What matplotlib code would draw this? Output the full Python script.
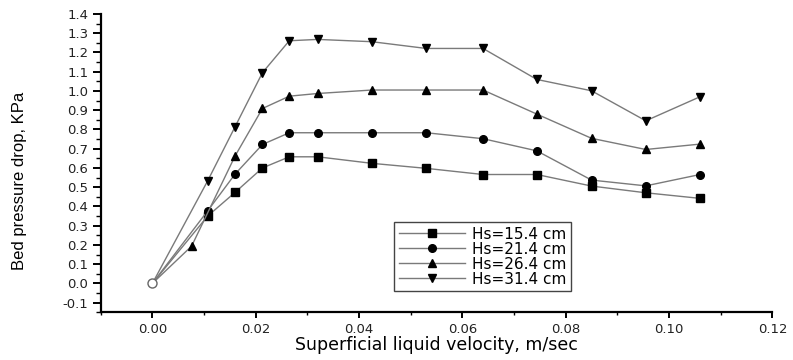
import matplotlib
matplotlib.use("Agg")
import matplotlib.pyplot as plt
from matplotlib.ticker import MultipleLocator, FormatStrFormatter

# Data
x_common = [0.0, 0.0107, 0.016, 0.0213, 0.0265, 0.032, 0.0425, 0.053, 0.064, 0.0744, 0.085, 0.0955, 0.106]
x_hs26 = [0.0, 0.0076, 0.016, 0.0213, 0.0265, 0.032, 0.0425, 0.053, 0.064, 0.0744, 0.085, 0.0955, 0.106]

y_hs15 = [0.0, 0.35, 0.473, 0.60, 0.658, 0.658, 0.624, 0.598, 0.566, 0.566, 0.506, 0.471, 0.442]
y_hs21 = [0.0, 0.377, 0.568, 0.722, 0.783, 0.783, 0.783, 0.783, 0.752, 0.689, 0.537, 0.507, 0.566]
y_hs26 = [0.0, 0.194, 0.662, 0.909, 0.973, 0.987, 1.005, 1.005, 1.005, 0.880, 0.754, 0.696, 0.724]
y_hs31 = [0.0, 0.533, 0.814, 1.095, 1.261, 1.268, 1.256, 1.221, 1.221, 1.060, 1.001, 0.845, 0.970]

labels = ["Hs=15.4 cm", "Hs=21.4 cm", "Hs=26.4 cm", "Hs=31.4 cm"]
series = [(x_common, y_hs15, "s"), (x_common, y_hs21, "o"), (x_hs26, y_hs26, "^"), (x_common, y_hs31, "v")]

x_label = "Superficial liquid velocity, m/sec"
y_label = "Bed pressure drop, KPa"

fig = plt.figure(figsize=(7.93, 3.6), dpi=100)
ax = fig.add_axes([0.127, 0.1325, 0.847, 0.8286])

line_color = "#7a7a7a"
for (xs, ys, m), lab in zip(series, labels):
    ax.plot(xs, ys, color=line_color, lw=1.0, marker=m, markersize=5.5,
            markerfacecolor="black", markeredgecolor="black", markevery=list(range(1, len(xs))),
            label=lab, zorder=3)

# hollow marker at origin (first point of data)
ax.plot(x_common[0], y_hs15[0], marker="o", markersize=6.5, markerfacecolor="white",
        markeredgecolor="#666666", markeredgewidth=1.0, linestyle="none", zorder=5)

ax.set_xlim(-0.01, 0.12)
ax.set_ylim(-0.15, 1.4)
ax.xaxis.set_major_locator(MultipleLocator(0.02))
ax.xaxis.set_minor_locator(MultipleLocator(0.01))
ax.yaxis.set_major_locator(MultipleLocator(0.1))
ax.yaxis.set_minor_locator(MultipleLocator(0.05))
ax.xaxis.set_major_formatter(FormatStrFormatter("%.2f"))
ax.yaxis.set_major_formatter(FormatStrFormatter("%.1f"))

for s in ["top", "right"]:
    ax.spines[s].set_visible(False)
for s in ["left", "bottom"]:
    ax.spines[s].set_linewidth(1.6)

ax.tick_params(axis="y", which="major", direction="out", length=6, width=1.4, labelsize=9.5, pad=3)
ax.tick_params(axis="y", which="minor", direction="out", length=3.5, width=1.0)
ax.tick_params(axis="x", which="major", direction="out", length=4, width=1.4, labelsize=9.5, pad=4)
ax.tick_params(axis="x", which="minor", direction="out", length=2.5, width=1.0)
for t in ax.get_xticklabels() + ax.get_yticklabels():
    t.set_fontfamily(["DejaVu Sans"])
    t.set_color("#222222")

ax.set_xlabel(x_label, fontsize=12.5, family=["DejaVu Sans"])
ax.xaxis.set_label_coords(0.5, -0.08)
ax.set_ylabel(y_label, fontsize=12, family=["Liberation Sans"])
ax.yaxis.set_label_coords(-0.11, 0.442)

leg = ax.legend(loc="lower left", bbox_to_anchor=(0.437, 0.071), fancybox=False, framealpha=1,
                edgecolor="#444444", handlelength=4.3, handletextpad=0.5,
                labelspacing=0.0, borderpad=0.3, borderaxespad=0,
                prop={"family": ["DejaVu Sans"], "size": 11})
leg.get_frame().set_linewidth(1.0)

fig.savefig("out.png", dpi=100)
